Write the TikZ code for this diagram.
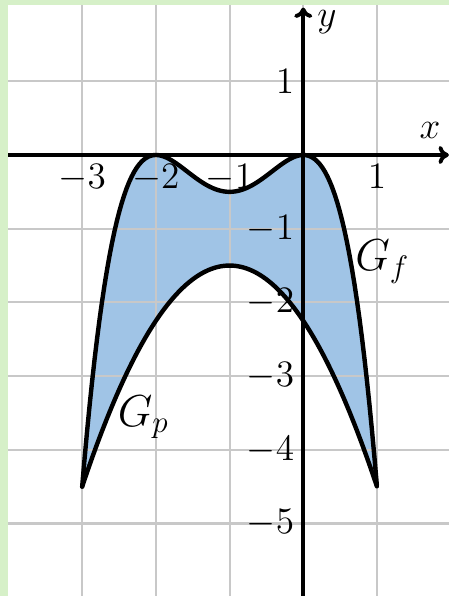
\documentclass[tikz,border=0pt]{standalone}
\usetikzlibrary{arrows.meta}
\definecolor{bggreen}{RGB}{214,240,200}
\definecolor{fillblue}{RGB}{160,196,230}
\definecolor{gridgray}{RGB}{200,200,200}
\tikzset{
  gridline/.style={gridgray, line width=0.8pt},
  axisline/.style={black, line width=1.5pt, -{To[length=4pt,width=7pt]}},
  curveline/.style={black, line width=1.7pt, line cap=round},
  ticklab/.style={font=\fontsize{14}{17}\selectfont},
  graphlab/.style={font=\fontsize{16.5}{19}\selectfont},
}
\begin{document}
\begin{tikzpicture}[x=1cm,y=1cm]
\fill[bggreen] (-4.115,-5.984) rectangle (1.978,2.103);
\fill[white] (-4.005,-5.984) rectangle (1.978,2.035);
\useasboundingbox (-4.115,-5.984) rectangle (1.978,2.103);
% region between the graphs
\fill[fillblue] plot[domain=-3:1, samples=120] (\x,{-0.5*\x*\x*(\x+2)*(\x+2)})
  -- plot[domain=1:-3, samples=120] (\x,{-1.5-0.75*(\x+1)*(\x+1)}) -- cycle;
% grid
\foreach \gx in {-3,...,1} \draw[gridline] (\gx,-5.984) -- (\gx,2.035);
\foreach \gy in {-5,...,1} \draw[gridline] (-4.005,\gy) -- (1.978,\gy);
% graphs
\draw[curveline] plot[domain=-3:1, samples=120] (\x,{-0.5*\x*\x*(\x+2)*(\x+2)});
\draw[curveline] plot[domain=-3:1, samples=120] (\x,{-1.5-0.75*(\x+1)*(\x+1)});
% axes
\coordinate (xs) at (-4.005,0);
\coordinate (xe) at (1.975,0);
\coordinate (ys) at (0,-5.984);
\coordinate (ye) at (0,2.0);
\draw[axisline] (xs) -- (xe);
\draw[axisline] (ys) -- (ye);
\node[ticklab, inner sep=0pt] (xlab) at (1.72,0.33) {$x$};
\node[ticklab, inner sep=0pt] (ylab) at (0.32,1.80) {$y$};
% tick labels
\foreach \tx in {-3,-2,-1,1} \node[ticklab, below] (tx\tx) at (\tx,0) {$\tx$};
\foreach \ty in {1,-1,-2,-3,-4,-5} \node[ticklab, left] (ty\ty) at (0,\ty) {$\ty$};
% graph labels
\node[graphlab] (gf) at (1.075,-1.445) {$G_f$};
\node[graphlab] (gp) at (-2.168,-3.56) {$G_p$};
\end{tikzpicture}
\end{document}
